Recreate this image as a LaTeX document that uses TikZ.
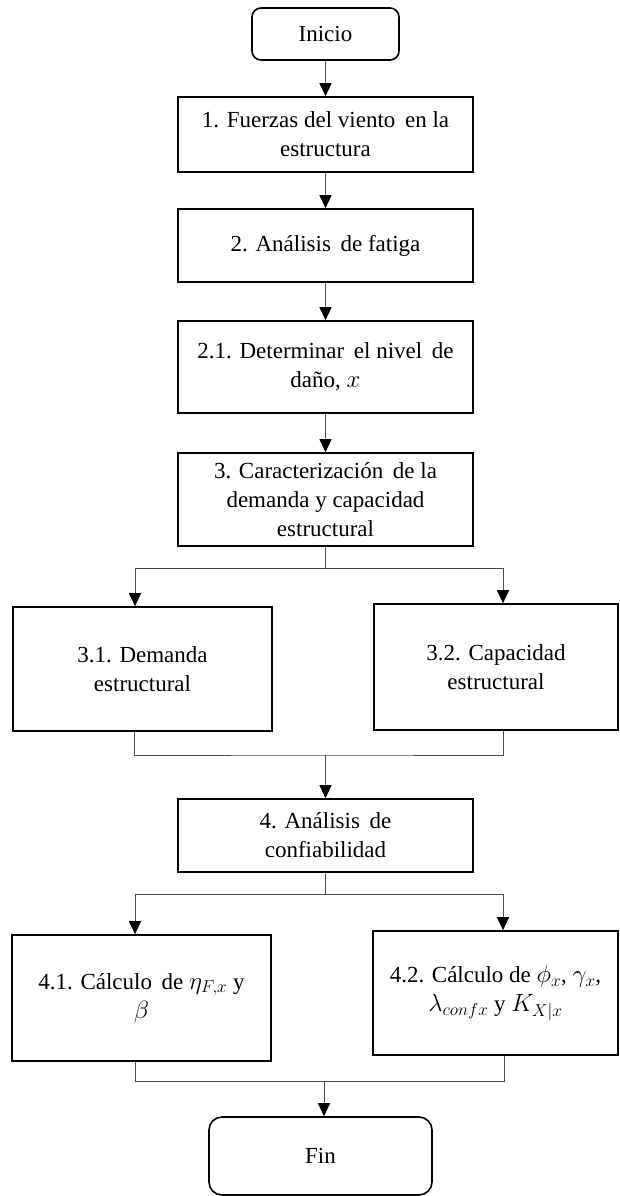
\documentclass[tikz,border=0pt]{standalone}
\usepackage{fontspec}
\setmainfont{Liberation Serif}
\usetikzlibrary{arrows.meta}
\begin{document}
\begin{tikzpicture}[x=1pt,y=-1pt,
  box/.style={draw=black,line width=1.6pt,rectangle,inner sep=0pt,align=center,
    font=\fontsize{23}{29}\selectfont},
  term/.style={box,rounded corners=9pt},
  conn/.style={draw=black!70,line width=1pt},
  arr/.style={conn,-{Triangle[width=12pt,length=13pt,color=black]}}]
\useasboundingbox (0,0) rectangle (619,1196);

\node[term,minimum width=147pt,minimum height=52pt] (ini) at (325.5,34) {Inicio};
\node[box,minimum width=295pt,minimum height=75pt] (b1) at (325.5,134.5) {1. Fuerzas del viento\, en la\\estructura};
\node[box,minimum width=295pt,minimum height=73pt] (b2) at (325.5,245.5) {2. Análisis\, de fatiga};
\node[box,minimum width=295pt,minimum height=92pt] (b21) at (325.5,367) {2.1. Determinar\, el nivel\, de\\daño, $x$};
\node[box,minimum width=295pt,minimum height=93pt] (b3) at (325.5,499.5) {3. Caracterización\, de la\\demanda y capacidad\\estructural};
\node[box,minimum width=259pt,minimum height=124pt] (b31) at (142.5,669) {3.1. Demanda\\estructural};
\node[box,minimum width=244pt,minimum height=126pt] (b32) at (496,667) {3.2. Capacidad\\estructural};
\node[box,minimum width=295pt,minimum height=73pt] (b4) at (325.5,835.5) {4. Análisis\, de\\confiabilidad};
\node[box,minimum width=259pt,minimum height=126pt] (b41) at (141.5,998) {4.1. Cálculo\, de $\eta_{F,x}$ y\\$\beta$};
\node[box,minimum width=245pt,minimum height=124pt] (b42) at (495.5,993) {4.2. Cálculo de $\phi_x$, $\gamma_x$,\\$\lambda_{confx}$ y $K_{X|x}$};
\node[box,rounded corners=13pt,minimum width=223pt,minimum height=78pt] (fin) at (320.5,1156) {Fin};

\coordinate (s3) at (325.5,568);
\coordinate (m3) at (325.5,755);
\coordinate (s4) at (325.5,894);
\coordinate (m4) at (324,1081);

\draw[arr] (ini) -- (b1);
\draw[arr] (b1) -- (b2);
\draw[arr] (b2) -- (b21);
\draw[arr] (b21) -- (b3);

\draw[conn] (b3) -- (s3);
\draw[arr] (s3) -| ([xshift=-7.5pt]b31.north);
\draw[arr] (s3) -| ([xshift=7pt]b32.north);
\draw[conn] ([xshift=-8pt]b31.south) |- (m3) -| ([xshift=7pt]b32.south);
\draw[arr] (m3) -- (b4);

\draw[conn] (b4) -- (s4);
\draw[arr] (s4) -| ([xshift=-6.5pt]b41.north);
\draw[arr] (s4) -| ([xshift=7.5pt]b42.north);
\draw[conn] ([xshift=-6.5pt]b41.south) |- (m4) -| ([xshift=9pt]b42.south);
\draw[arr] (m4) -- (m4 |- fin.north);
\end{tikzpicture}
\end{document}
